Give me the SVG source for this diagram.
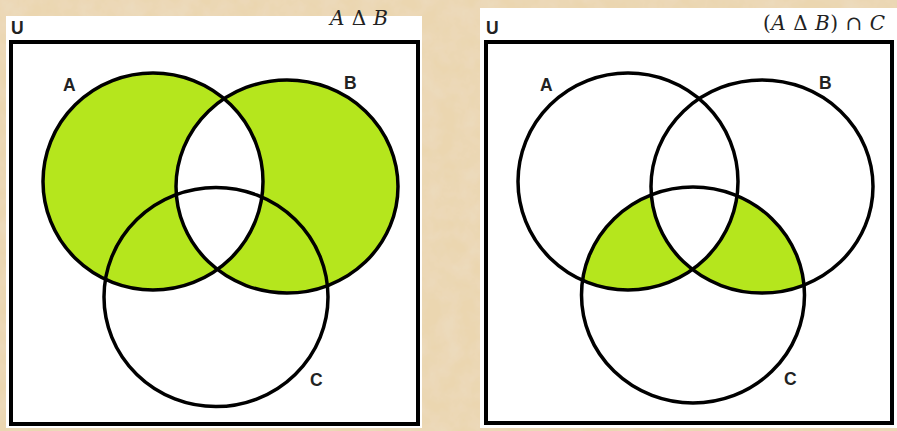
<svg xmlns="http://www.w3.org/2000/svg" width="897" height="431" viewBox="0 0 897 431">
<defs>
<filter id="tex" x="0" y="0" width="100%" height="100%">
<feTurbulence type="fractalNoise" baseFrequency="0.05" numOctaves="4" seed="4" result="n"/>
<feColorMatrix in="n" type="matrix" values="0 0 0 0 0.84  0 0 0 0 0.71  0 0 0 0 0.52  0 0 0 -1.4 1.0" result="c"/>
<feComposite in="c" in2="SourceGraphic" operator="over"/>
</filter>
<clipPath id="clA1"><ellipse cx="153" cy="181.5" rx="110" ry="108.5"/></clipPath>
<clipPath id="clC2"><ellipse cx="693" cy="295" rx="111.5" ry="108"/></clipPath>
<clipPath id="clA2"><ellipse cx="628" cy="181.5" rx="110" ry="108.5"/></clipPath>
</defs>
<style>
.ln{fill:none;stroke:#000;stroke-width:3.5}
.g{fill:#b5e61d}
.w{fill:#fff}
.lbl{font-family:"Liberation Sans",Arial,sans-serif;font-weight:bold;font-size:17.5px;fill:#222}
.ttl{font-family:"DejaVu Serif","Liberation Serif",serif;font-size:20px;fill:#222}
.it{font-style:italic}
</style>
<rect width="897" height="431" fill="#ebd6b0" filter="url(#tex)"/>
<g id="panel-left">
<rect x="6" y="16" width="416" height="412" class="w"/>
<rect x="11" y="42" width="407" height="382" fill="#fff" stroke="#000" stroke-width="4"/>
<ellipse class="g" cx="153" cy="181.5" rx="110" ry="108.5"/>
<ellipse class="g" cx="287" cy="186.5" rx="111" ry="106.5"/>
<ellipse class="w" cx="287" cy="186.5" rx="111" ry="106.5" clip-path="url(#clA1)"/>
<ellipse id="A1" class="ln" cx="153" cy="181.5" rx="110" ry="108.5"/>
<ellipse id="B1" class="ln" cx="287" cy="186.5" rx="111" ry="106.5"/>
<ellipse id="C1" class="ln" cx="216" cy="297" rx="112" ry="109.5"/>
<text class="lbl" x="11" y="34" font-size="18">U</text>
<text class="lbl" x="63" y="91">A</text>
<text class="lbl" x="344" y="89">B</text>
<text class="lbl" x="310" y="386">C</text>
<text class="ttl" x="330" y="25" textLength="58" lengthAdjust="spacing"><tspan class="it">A</tspan> Δ <tspan class="it">B</tspan></text>
</g>
<g id="panel-right">
<rect x="480" y="8" width="417" height="420" class="w"/>
<rect x="486" y="42" width="406" height="381" fill="#fff" stroke="#000" stroke-width="4"/>
<g clip-path="url(#clC2)">
<ellipse class="g" cx="628" cy="181.5" rx="110" ry="108.5"/>
<ellipse class="g" cx="762" cy="186.5" rx="111" ry="106.5"/>
<ellipse class="w" cx="762" cy="186.5" rx="111" ry="106.5" clip-path="url(#clA2)"/>
</g>
<ellipse id="A2" class="ln" cx="628" cy="181.5" rx="110" ry="108.5"/>
<ellipse id="B2" class="ln" cx="762" cy="186.5" rx="111" ry="106.5"/>
<ellipse id="C2" class="ln" cx="693" cy="295" rx="111.5" ry="108"/>
<text class="lbl" x="486" y="34" font-size="18">U</text>
<text class="lbl" x="540" y="91">A</text>
<text class="lbl" x="819" y="89">B</text>
<text class="lbl" x="784" y="385">C</text>
<text class="ttl" x="763" y="30" textLength="122" lengthAdjust="spacing">(<tspan class="it">A</tspan> Δ <tspan class="it">B</tspan>) ∩ <tspan class="it">C</tspan></text>
</g>
<g id="connectors"/>
</svg>
